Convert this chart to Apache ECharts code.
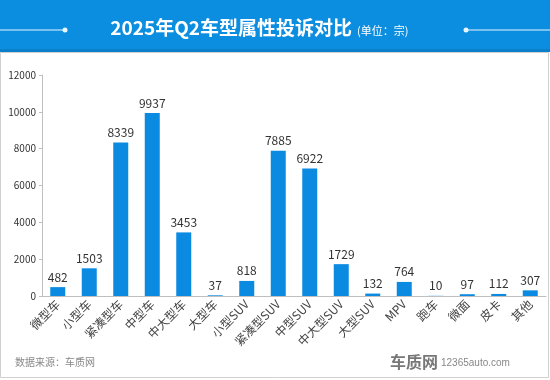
<!DOCTYPE html>
<html><head><meta charset="utf-8">
<script src="https://cdn.jsdelivr.net/npm/echarts@6/dist/echarts.min.js"></script>
<style>html,body{margin:0;padding:0;background:#fff}#c{width:550px;height:380px}</style>
</head><body><div id="c"></div>
<script>
const categories = ['微型车','小型车','紧凑型车','中型车','中大型车','大型车','小型SUV','紧凑型SUV','中型SUV','中大型SUV','大型SUV','MPV','跑车','微面','皮卡','其他'];
const values = [482,1503,8339,9937,3453,37,818,7885,6922,1729,132,764,10,97,112,307];
const yTicks = [0,2000,4000,6000,8000,10000,12000];

const chart = echarts.init(document.getElementById('c'), null, {renderer:'canvas'});
const font = '"Microsoft YaHei","Noto Sans CJK SC",sans-serif';
chart.setOption({
  animation:false,
  textStyle:{fontFamily:font},
  graphic:[
    {type:'rect',shape:{x:0,y:0,width:550,height:52},style:{fill:'#0b8de0'},z:0},
    {type:'rect',shape:{x:0,y:49,width:550,height:3},style:{fill:'#0a7fcc'},z:0},
    {type:'rect',shape:{x:0.5,y:52.5,width:548,height:325},style:{fill:'#fff',stroke:'#d0d0d0',lineWidth:1},z:0},
    {type:'line',shape:{x1:0,y1:30,x2:65,y2:30},style:{stroke:'#e8f6ff',lineWidth:1},z:1},
    {type:'circle',shape:{cx:65,cy:30,r:2.5},style:{fill:'#e8f6ff'},z:1},
    {type:'line',shape:{x1:466,y1:30,x2:550,y2:30},style:{stroke:'#e8f6ff',lineWidth:1},z:1},
    {type:'circle',shape:{cx:466,cy:30,r:2.5},style:{fill:'#e8f6ff'},z:1},
    {type:'text',x:352,y:18,style:{text:'2025年Q2车型属性投诉对比',fill:'#fff',font:'bold 19px '+font,align:'right'},z:2},
    {type:'text',x:357,y:25,style:{text:'(单位：宗)',fill:'#fff',font:'11px '+font},z:2},
    {type:'text',x:15,y:357,style:{text:'数据来源：车质网',fill:'#888',font:'10px '+font},z:2},
    {type:'text',x:390,y:354,style:{text:'车质网',fill:'#777',font:'bold 16px '+font},z:2},
    {type:'text',x:441,y:358,style:{text:'12365auto.com',fill:'#888',font:'10px "Liberation Sans",Arial,sans-serif'},z:2}
  ],
  grid:{left:42,right:4,top:75,bottom:84,containLabel:false},
  xAxis:{
    type:'category',data:categories,
    axisLine:{lineStyle:{color:'#bfbfbf'}},
    axisTick:{show:false},
    axisLabel:{rotate:45,interval:0,color:'#444',fontSize:12,margin:6}
  },
  yAxis:{
    type:'value',min:0,max:12000,interval:2000,
    axisLine:{show:true,lineStyle:{color:'#bfbfbf'}},
    axisTick:{show:true,length:3,lineStyle:{color:'#bfbfbf'}},
    splitLine:{show:false},
    axisLabel:{color:'#333',fontSize:10,margin:6,formatter:v=>yTicks.includes(v)?String(v):''}
  },
  series:[{
    type:'bar',data:values,barWidth:15,
    itemStyle:{color:'#0a8ae0'},
    label:{show:true,position:'top',color:'#333',fontSize:12,distance:4}
  }]
});
</script></body></html>
